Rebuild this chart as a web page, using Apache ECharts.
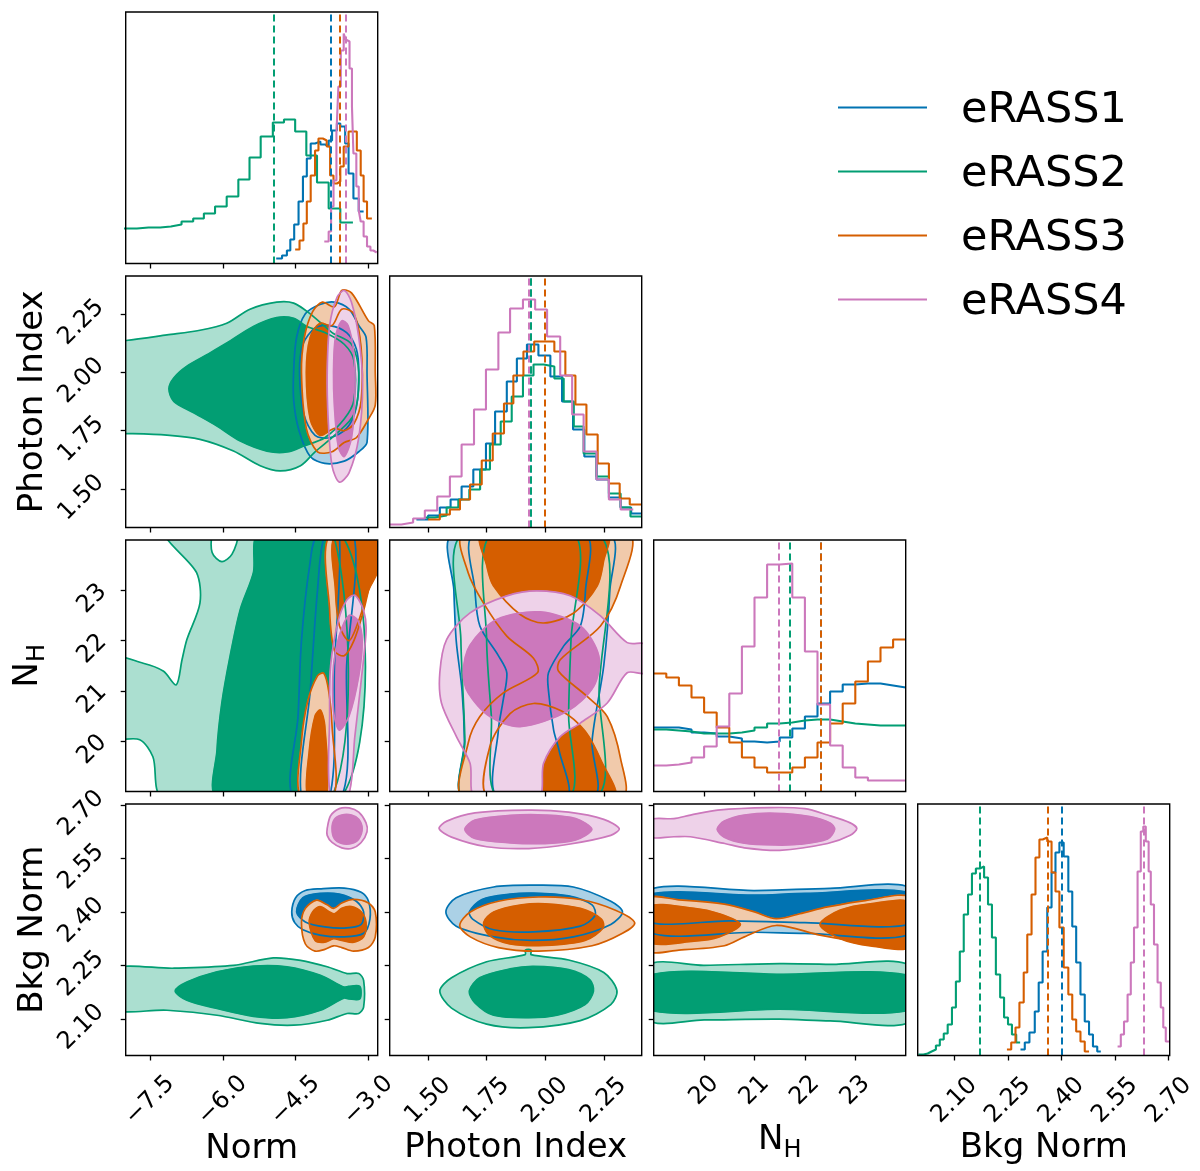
<!DOCTYPE html>
<html>
<head>
<meta charset="utf-8">
<script src="https://cdn.jsdelivr.net/npm/echarts@6/dist/echarts.min.js"></script>
<style>
html,body{margin:0;padding:0;background:#fff;}
#chart{width:1200px;height:1171px;}
</style>
</head>
<body>
<div id="chart"></div>
<script>
// ---- axis ranges / ticks ----
var normRange = [-8.0, -2.81];
var piRange = [1.336, 2.412];
var nhRange = [19.0, 24.0];
var bkgRange = [1.997, 2.703];
var normTicks = [-7.5, -6.0, -4.5, -3.0];
var piTicks = [1.50, 1.75, 2.00, 2.25];
var nhTicks = [20, 21, 22, 23];
var bkgTicks = [2.10, 2.25, 2.40, 2.55, 2.70];
var setNames = ['eRASS1', 'eRASS2', 'eRASS3', 'eRASS4'];

// ---- 1D histograms (bin edges, heights) ----
var normEdgesE1 = [-4.90,-4.78,-4.68,-4.61,-4.53,-4.44,-4.35,-4.27,-4.19,-4.10,-3.99,-3.89,-3.82,-3.75,-3.65,-3.58,-3.48,-3.41,-3.31,-3.20,-3.10];
var normHistE1 = [5,8,13,24,39,62,87,105,120,122,119,117,123,133,140,137,120,90,65,52];
var normEdgesE2 = [-8.05,-7.77,-7.53,-7.29,-7.07,-6.85,-6.61,-6.39,-6.16,-5.92,-5.68,-5.45,-5.22,-4.97,-4.74,-4.51,-4.28,-4.06,-3.82,-3.58,-3.32];
var normHistE2 = [35,36,36,37,39,42,45,50,57,67,84,106,127,141,144,132,108,81,55,41];
var normEdgesE3 = [-4.51,-4.42,-4.34,-4.27,-4.19,-4.10,-4.03,-3.94,-3.86,-3.79,-3.72,-3.65,-3.58,-3.51,-3.41,-3.34,-3.24,-3.16,-3.10,-3.03,-2.93];
var normHistE3 = [14,23,40,62,88,113,125,123,117,88,80,82,97,117,132,132,113,88,62,45];
var normEdgesE4 = [-3.91,-3.82,-3.77,-3.72,-3.66,-3.62,-3.57,-3.51,-3.47,-3.43,-3.39,-3.34,-3.31,-3.25,-3.20,-3.16,-3.10,-3.03,-2.96,-2.90,-2.83];
var normHistE4 = [22,32,57,83,130,177,213,230,224,222,195,157,110,77,53,42,27,17,13,11];
var normMedians = [-3.77, -4.96, -3.60, -3.47];

var piEdgesE1 = [1.450,1.500,1.550,1.596,1.643,1.693,1.747,1.786,1.836,1.879,1.922,1.971,2.022,2.072,2.119,2.167,2.219,2.272,2.322,2.367,2.410];
var piHistE1 = [8,12,20,28,41,58,84,116,146,169,183,172,151,126,98,71,48,30,20,14];
var piEdgesE2 = [1.486,1.529,1.579,1.629,1.676,1.722,1.764,1.810,1.857,1.905,1.950,1.993,2.039,2.079,2.122,2.164,2.219,2.272,2.322,2.364,2.410];
var piHistE2 = [10,12,20,28,38,58,83,106,131,152,163,161,149,126,101,74,51,34,20,11];
var piEdgesE3 = [1.500,1.550,1.593,1.636,1.679,1.729,1.776,1.824,1.864,1.907,1.953,2.000,2.039,2.086,2.129,2.176,2.224,2.272,2.318,2.361,2.410];
var piHistE3 = [8,13,18,28,43,67,94,124,152,176,186,186,176,152,123,93,64,44,29,23];
var piEdgesE4 = [1.336,1.386,1.436,1.486,1.539,1.593,1.643,1.696,1.747,1.800,1.850,1.905,1.957,2.008,2.064,2.115,2.164,2.219,2.272,2.322,2.376];
var piHistE4 = [3,5,9,17,31,51,83,118,158,195,219,228,218,191,152,113,76,48,28,18];
var piMedians = [1.935, 1.940, 1.997, 1.926];

var nhEdges = [19.0,19.25,19.5,19.75,20.0,20.25,20.5,20.75,21.0,21.25,21.5,21.75,22.0,22.25,22.5,22.75,23.0,23.25,23.5,23.75,24.0];
var nhHistE1 = [64,64,62,59,58,55,53,50,49,50,54,63,75,88,100,107,108,108,106,104];
var nhHistE2 = [62,61,60,58,58,58,59,61,64,68,69,71,72,72,70,68,67,66,66,66];
var nhHistE3 = [118,114,106,94,79,64,49,34,24,19,19,24,34,49,68,88,110,130,144,152];
var nhHistE4 = [26,27,29,34,45,65,98,145,194,227,228,194,140,87,46,24,14,11,11,11];
var nhMedians = [22.32, 21.69, 22.32, 21.49];

var bkgEdgesE1 = [2.285,2.297,2.310,2.325,2.336,2.347,2.360,2.372,2.383,2.394,2.406,2.419,2.430,2.441,2.453,2.465,2.477,2.488,2.500,2.510];
var bkgHistE1 = [6,13,23,44,73,104,148,183,203,213,199,164,129,93,61,34,21,9,4];
var bkgEdgesE2 = [1.999,2.013,2.025,2.036,2.048,2.059,2.070,2.081,2.093,2.104,2.115,2.126,2.138,2.149,2.160,2.171,2.183,2.194,2.205,2.216,2.228,2.239,2.250,2.261,2.273,2.284];
var bkgHistE2 = [1,2,4,6,10,16,22,31,48,74,104,141,161,182,187,189,178,151,118,81,58,38,31,21,13];
var bkgEdgesE3 = [2.247,2.259,2.271,2.282,2.294,2.304,2.316,2.327,2.338,2.347,2.360,2.372,2.383,2.394,2.406,2.419,2.430,2.441,2.453,2.465,2.477];
var bkgHistE3 = [6,13,28,53,83,121,161,198,216,218,214,183,164,128,88,61,36,24,14,4];
var bkgEdgesE4 = [2.557,2.566,2.575,2.585,2.594,2.603,2.613,2.622,2.629,2.636,2.644,2.650,2.659,2.669,2.678,2.685,2.692,2.702];
var bkgHistE4 = [9,21,34,61,93,128,184,224,229,214,184,151,111,73,48,28,14];
var bkgMedians = [2.397, 2.175, 2.363, 2.633];

// ---- 2D contours (outer = 2 sigma, inner = 1 sigma), [x, y] in data units ----
// Photon Index vs Norm
var piNormE1Outer = [[-4.54,2.01],[-4.48,2.15],[-4.3,2.25],[-4.0,2.29],[-3.7,2.30],[-3.4,2.27],[-3.2,2.20],[-3.05,2.15],[-3.03,2.0],[-3.03,1.70],[-3.2,1.66],[-3.5,1.62],[-3.9,1.61],[-4.2,1.64],[-4.43,1.75],[-4.54,1.88]];
var piNormE1Inner = [[-4.42,2.0],[-4.35,2.12],[-4.1,2.19],[-3.8,2.2],[-3.45,2.17],[-3.25,2.1],[-3.2,2.0],[-3.25,1.85],[-3.45,1.76],[-3.8,1.72],[-4.1,1.73],[-4.33,1.82]];
var piNormE2Outer = [[-8.3,2.13],[-7.99,2.136],[-7.15,2.16],[-6.47,2.18],[-5.92,2.21],[-5.44,2.27],[-4.89,2.30],[-4.54,2.296],[-4.2,2.25],[-3.75,2.17],[-3.35,2.12],[-3.2,2.0],[-3.3,1.82],[-3.7,1.73],[-4.1,1.66],[-4.40,1.60],[-4.82,1.578],[-5.23,1.60],[-5.78,1.663],[-6.47,1.713],[-7.15,1.731],[-7.99,1.738],[-8.3,1.738]];
var piNormE2Inner = [[-7.11,1.93],[-7.01,1.976],[-6.74,2.026],[-6.33,2.075],[-5.92,2.125],[-5.37,2.196],[-4.89,2.234],[-4.54,2.231],[-4.27,2.196],[-3.9,2.17],[-3.5,2.12],[-3.3,2.05],[-3.3,1.88],[-3.5,1.80],[-3.9,1.72],[-4.33,1.685],[-4.68,1.659],[-5.09,1.663],[-5.64,1.706],[-6.12,1.77],[-6.60,1.827],[-7.01,1.876]];
var piNormE3Outer = [[-4.38,2.0],[-4.32,2.15],[-4.15,2.26],[-3.95,2.30],[-3.7,2.28],[-3.55,2.35],[-3.35,2.34],[-3.0,2.22],[-2.88,2.2],[-2.86,2.0],[-2.86,1.86],[-3.0,1.80],[-3.25,1.72],[-3.5,1.70],[-3.75,1.66],[-4.05,1.66],[-4.28,1.76]];
var piNormE3Inner = [[-4.28,2.0],[-4.2,2.15],[-4.0,2.21],[-3.75,2.2],[-3.55,2.27],[-3.3,2.25],[-3.15,2.1],[-3.15,1.88],[-3.3,1.78],[-3.5,1.75],[-3.7,1.76],[-4.0,1.73],[-4.2,1.80]];
var piNormE4Outer = [[-3.85,2.0],[-3.8,2.2],[-3.65,2.32],[-3.5,2.35],[-3.35,2.3],[-3.2,2.15],[-3.12,1.95],[-3.2,1.72],[-3.4,1.57],[-3.6,1.53],[-3.75,1.6],[-3.83,1.8]];
var piNormE4Inner = [[-3.72,2.0],[-3.68,2.15],[-3.55,2.22],[-3.42,2.2],[-3.3,2.08],[-3.28,1.9],[-3.35,1.72],[-3.5,1.64],[-3.62,1.68],[-3.7,1.85]];

// N_H vs Norm
var nhNormE1Outer = [[-4.56,18.9],[-4.45,20.5],[-4.38,22.0],[-4.21,23.5],[-4.04,24.1],[-3.3,24.1],[-3.45,21.5],[-3.55,18.9]];
var nhNormE1Inner = [[-4.38,18.9],[-4.2,21.0],[-4.05,23.0],[-3.9,24.1],[-3.6,24.1],[-3.7,21.5],[-3.8,18.9]];
var nhNormE2Outer = [[-7.12,24.1],[-3.55,24.1],[-3.55,18.9],[-7.24,18.9],[-7.44,19.69],[-7.71,20.03],[-8.3,20.09],[-8.3,21.65],[-7.64,21.55],[-7.22,21.39],[-6.96,21.12],[-6.84,21.62],[-6.74,22.02],[-6.47,22.75],[-6.54,23.35]];
var nhNormE2Hole = [[-6.19,24.1],[-6.22,23.75],[-6.02,23.57],[-5.81,23.72],[-5.71,24.1]];
var nhNormE2Inner = [[-5.27,24.1],[-5.37,23.35],[-5.64,22.62],[-5.85,21.69],[-6.02,20.76],[-6.12,19.82],[-6.12,18.9],[-3.75,18.9],[-3.72,24.1]];
var nhNormE3OuterTop = [[-3.80,24.1],[-3.80,22.6],[-3.7,21.8],[-3.5,21.7],[-3.3,22.0],[-3.1,22.6],[-2.9,23.3],[-2.7,23.4],[-2.7,24.1]];
var nhNormE3InnerTop = [[-3.68,24.1],[-3.68,23.0],[-3.6,22.3],[-3.4,22.0],[-3.2,22.4],[-3.0,23.0],[-2.8,23.4],[-2.7,24.1]];
var nhNormE3OuterBottom = [[-4.40,18.9],[-4.38,20.0],[-4.25,20.8],[-4.05,21.3],[-3.92,21.35],[-3.82,21.0],[-3.75,20.3],[-3.72,18.9]];
var nhNormE3InnerBottom = [[-4.25,18.9],[-4.22,19.8],[-4.1,20.5],[-3.99,20.62],[-3.9,20.3],[-3.87,18.9]];
var nhNormE4Outer = [[-3.78,18.9],[-3.80,20.5],[-3.78,21.5],[-3.62,22.4],[-3.45,22.8],[-3.28,22.9],[-3.1,22.6],[-3.05,22.2],[-3.15,21.2],[-3.28,20.1],[-3.42,18.9]];
var nhNormE4Inner = [[-3.72,20.6],[-3.72,21.5],[-3.6,22.1],[-3.4,22.5],[-3.22,22.4],[-3.13,22.0],[-3.2,21.3],[-3.4,20.5],[-3.6,20.22]];

// Bkg Norm vs Norm
var bkgNormE1Outer = [[-4.58,2.40],[-4.5,2.44],[-4.3,2.46],[-4.0,2.465],[-3.5,2.467],[-3.15,2.455],[-3.0,2.43],[-2.97,2.38],[-3.1,2.34],[-3.5,2.33],[-4.0,2.335],[-4.35,2.35],[-4.52,2.37]];
var bkgNormE1Inner = [[-4.48,2.40],[-4.35,2.44],[-4.0,2.452],[-3.6,2.45],[-3.25,2.43],[-3.1,2.40],[-3.15,2.365],[-3.45,2.355],[-3.9,2.358],[-4.3,2.372]];
var bkgNormE2Outer = [[-8.3,2.238],[-7.0,2.242],[-5.78,2.25],[-4.96,2.271],[-4.40,2.264],[-3.85,2.246],[-3.44,2.227],[-3.20,2.227],[-3.10,2.208],[-3.10,2.133],[-3.20,2.115],[-3.44,2.115],[-3.85,2.096],[-4.54,2.082],[-5.23,2.087],[-6.12,2.11],[-7.15,2.124],[-8.3,2.129]];
var bkgNormE2Inner = [[-6.98,2.178],[-6.74,2.203],[-6.12,2.232],[-5.37,2.248],[-4.68,2.246],[-3.99,2.222],[-3.51,2.189],[-3.41,2.191],[-3.18,2.191],[-3.18,2.156],[-3.41,2.156],[-3.51,2.158],[-3.99,2.124],[-4.68,2.103],[-5.37,2.107],[-6.12,2.129],[-6.74,2.152]];
var bkgNormE3Outer = [[-4.38,2.37],[-4.3,2.41],[-4.07,2.433],[-3.85,2.42],[-3.72,2.41],[-3.55,2.425],[-3.31,2.435],[-3.0,2.425],[-2.86,2.40],[-2.86,2.33],[-3.0,2.30],[-3.31,2.29],[-3.55,2.30],[-3.72,2.305],[-3.9,2.295],[-4.1,2.29],[-4.3,2.31]];
var bkgNormE3Inner = [[-4.22,2.37],[-4.15,2.40],[-4.0,2.415],[-3.8,2.40],[-3.7,2.395],[-3.55,2.41],[-3.35,2.415],[-3.15,2.40],[-3.05,2.37],[-3.1,2.33],[-3.3,2.315],[-3.55,2.32],[-3.72,2.325],[-3.9,2.315],[-4.1,2.32]];
var bkgNormE4Outer = [[-3.85,2.634],[-3.78,2.67],[-3.6,2.69],[-3.4,2.692],[-3.2,2.68],[-3.05,2.65],[-3.03,2.625],[-3.15,2.595],[-3.35,2.578],[-3.55,2.58],[-3.75,2.595],[-3.85,2.615]];
var bkgNormE4Inner = [[-3.75,2.634],[-3.7,2.66],[-3.55,2.672],[-3.35,2.672],[-3.2,2.66],[-3.13,2.634],[-3.2,2.605],[-3.35,2.592],[-3.55,2.592],[-3.7,2.605]];

// N_H vs Photon Index
var nhPiE1Outer = [[1.604,24.1],[1.61,23.0],[1.62,22.0],[1.645,21.0],[1.655,20.0],[1.65,18.9],[2.207,18.9],[2.2,20.0],[2.25,21.5],[2.276,23.0],[2.276,24.1]];
var nhPiE1Inner = [[1.693,24.1],[1.70,23.0],[1.721,22.29],[1.80,21.7],[1.836,21.36],[1.82,20.8],[1.80,20.22],[1.793,18.9],[2.093,18.9],[2.06,19.8],[2.036,20.22],[2.014,21.0],[2.014,21.36],[2.08,21.9],[2.15,22.29],[2.172,23.0],[2.172,24.1]];
var nhPiE2Outer = [[1.643,24.1],[1.64,22.0],[1.657,20.0],[1.65,18.9],[2.222,18.9],[2.23,21.0],[2.236,24.1]];
var nhPiE2Inner = [[1.764,24.1],[1.75,22.0],[1.77,20.5],[1.793,18.9],[2.107,18.9],[2.10,20.5],[2.11,22.0],[2.129,24.1]];
var nhPiE3Outer = [[1.65,24.1],[1.671,23.35],[1.736,22.75],[1.836,22.09],[1.95,21.65],[1.967,21.36],[1.821,20.96],[1.721,20.49],[1.671,19.96],[1.65,18.9],[2.329,18.9],[2.322,19.65],[2.265,20.49],[2.179,20.89],[2.057,21.39],[2.064,21.62],[2.236,22.29],[2.322,23.09],[2.357,24.1]];
var nhPiE3InnerTop = [[1.729,24.1],[1.75,23.5],[1.779,23.09],[1.893,22.52],[1.993,22.35],[2.122,22.55],[2.222,23.09],[2.25,23.6],[2.265,24.1]];
var nhPiE3InnerBottom = [[1.757,18.9],[1.764,19.9],[1.85,20.55],[1.95,20.75],[2.07,20.6],[2.17,20.2],[2.24,19.6],[2.293,18.9]];
var nhPiE4Outer = [[1.70,18.9],[1.679,19.56],[1.621,20.09],[1.557,20.76],[1.55,21.36],[1.579,22.02],[1.679,22.55],[1.836,22.89],[1.964,22.99],[2.107,22.89],[2.236,22.49],[2.35,21.96],[2.43,21.92],[2.43,21.36],[2.35,21.36],[2.265,20.76],[2.15,20.36],[2.064,20.09],[1.993,19.56],[1.971,18.9]];
var nhPiE4Inner = [[1.65,21.36],[1.679,21.91],[1.793,22.42],[1.979,22.57],[2.15,22.29],[2.229,21.69],[2.207,21.09],[2.093,20.59],[1.893,20.29],[1.764,20.49],[1.671,20.96]];

// Bkg Norm vs Photon Index
var bkgPiE1Outer = [[1.576,2.40],[1.62,2.44],[1.78,2.47],[1.942,2.475],[2.12,2.47],[2.28,2.43],[2.33,2.40],[2.28,2.365],[2.12,2.33],[1.942,2.32],[1.78,2.33],[1.62,2.36]];
var bkgPiE1Inner = [[1.676,2.40],[1.73,2.435],[1.85,2.45],[1.95,2.453],[2.1,2.445],[2.2,2.42],[2.213,2.39],[2.15,2.36],[1.95,2.344],[1.78,2.35],[1.69,2.38]];
var bkgPiE2Outer = [[1.55,2.178],[1.6,2.215],[1.75,2.26],[1.915,2.28],[1.915,2.293],[1.94,2.293],[1.94,2.28],[2.1,2.265],[2.25,2.23],[2.306,2.18],[2.28,2.14],[2.15,2.095],[1.928,2.075],[1.75,2.085],[1.6,2.13]];
var bkgPiE2Inner = [[1.676,2.178],[1.72,2.215],[1.85,2.24],[1.95,2.247],[2.1,2.238],[2.19,2.21],[2.206,2.178],[2.17,2.14],[2.05,2.11],[1.93,2.103],[1.78,2.11],[1.7,2.145]];
var bkgPiE3Outer = [[1.635,2.362],[1.68,2.40],[1.8,2.43],[1.972,2.442],[2.15,2.435],[2.3,2.405],[2.382,2.37],[2.33,2.34],[2.2,2.305],[1.972,2.29],[1.8,2.30],[1.68,2.33]];
var bkgPiE3Inner = [[1.737,2.37],[1.78,2.40],[1.9,2.42],[2.0,2.423],[2.15,2.41],[2.24,2.38],[2.247,2.355],[2.17,2.32],[2.0,2.306],[1.85,2.31],[1.76,2.335]];
var bkgPiE4Outer = [[1.547,2.634],[1.58,2.655],[1.7,2.678],[1.93,2.686],[2.1,2.68],[2.25,2.66],[2.316,2.634],[2.28,2.615],[2.1,2.59],[1.93,2.578],[1.75,2.583],[1.6,2.61]];
var bkgPiE4Inner = [[1.657,2.632],[1.7,2.658],[1.85,2.671],[2.0,2.672],[2.13,2.662],[2.199,2.632],[2.13,2.602],[2.0,2.592],[1.85,2.594],[1.7,2.606]];

// Bkg Norm vs N_H
var bkgNhE1Outer = [[18.9,2.462],[21.0,2.46],[22.5,2.466],[24.1,2.467],[24.1,2.338],[22,2.34],[21,2.343],[18.9,2.343]];
var bkgNhE1Inner = [[18.9,2.449],[21,2.447],[22,2.452],[24.1,2.453],[24.1,2.366],[22,2.37],[20.5,2.375],[18.9,2.372]];
var bkgNhE2Outer = [[18.9,2.25],[20,2.25],[21.5,2.255],[22.5,2.253],[24.1,2.248],[24.1,2.093],[22.5,2.094],[21.5,2.099],[20,2.097],[18.9,2.097]];
var bkgNhE2Inner = [[18.9,2.222],[21.5,2.225],[24.1,2.22],[24.1,2.125],[21.5,2.127],[18.9,2.125]];
var bkgNhE3Outer = [[18.9,2.437],[19.5,2.434],[20.4,2.422],[21.0,2.40],[21.43,2.381],[21.9,2.395],[22.45,2.414],[23.2,2.432],[24.1,2.44],[24.1,2.305],[23.5,2.31],[23.0,2.318],[22.3,2.335],[21.43,2.362],[20.8,2.33],[20.4,2.305],[19.5,2.293],[18.9,2.292]];
var bkgNhE3InnerLeft = [[18.9,2.414],[19.8,2.41],[20.3,2.395],[20.72,2.365],[20.3,2.33],[19.8,2.318],[18.9,2.316]];
var bkgNhE3InnerRight = [[24.1,2.425],[23.3,2.423],[22.7,2.405],[22.3,2.365],[22.7,2.325],[23.3,2.305],[24.1,2.303]];
var bkgNhE4Outer = [[18.9,2.658],[19.4,2.662],[19.73,2.672],[20.27,2.686],[21.3,2.693],[22.0,2.69],[22.45,2.672],[22.9,2.65],[23.03,2.634],[22.9,2.615],[22.45,2.592],[21.5,2.573],[20.8,2.58],[20.41,2.592],[19.73,2.611],[19.4,2.611],[18.9,2.611]];
var bkgNhE4Inner = [[20.26,2.632],[20.4,2.655],[20.8,2.672],[21.4,2.677],[22.1,2.668],[22.5,2.65],[22.59,2.632],[22.45,2.605],[21.9,2.59],[21.4,2.588],[20.8,2.593],[20.4,2.61]];

// ---- style ----
var FONT = 'DejaVu Sans';
var lineColors = ['#0173b2', '#029e73', '#d55e00', '#cc78bc'];
var lightColors = ['#abd1e6', '#abdfd0', '#f1caab', '#eed2e9'];

var L0 = 125.7, T0 = 12, CELL = 264, GW = 252, GH = 251.5;
var TICK_FS = 24, TITLE_FS = 34;

var ranges = [normRange, piRange, nhRange, bkgRange];
var ticks = [normTicks, piTicks, nhTicks, bkgTicks];
var decimals = [1, 2, 0, 2];
var titles = ['Norm', 'Photon Index', '{n|N}{s|H}', 'Bkg Norm'];

var hists = [
	{ edges: [normEdgesE1, normEdgesE2, normEdgesE3, normEdgesE4], heights: [normHistE1, normHistE2, normHistE3, normHistE4], med: normMedians },
	{ edges: [piEdgesE1, piEdgesE2, piEdgesE3, piEdgesE4], heights: [piHistE1, piHistE2, piHistE3, piHistE4], med: piMedians },
	{ edges: [nhEdges, nhEdges, nhEdges, nhEdges], heights: [nhHistE1, nhHistE2, nhHistE3, nhHistE4], med: nhMedians },
	{ edges: [bkgEdgesE1, bkgEdgesE2, bkgEdgesE3, bkgEdgesE4], heights: [bkgHistE1, bkgHistE2, bkgHistE3, bkgHistE4], med: bkgMedians }
];

// per panel: [outer list, inner list, hole list] for each data set
var contourPanels = {
	'1-0': [
		[[piNormE1Outer], [piNormE1Inner], []],
		[[piNormE2Outer], [piNormE2Inner], []],
		[[piNormE3Outer], [piNormE3Inner], []],
		[[piNormE4Outer], [piNormE4Inner], []]
	],
	'2-0': [
		[[nhNormE1Outer], [nhNormE1Inner], []],
		[[nhNormE2Outer], [nhNormE2Inner], [nhNormE2Hole]],
		[[nhNormE3OuterTop, nhNormE3OuterBottom], [nhNormE3InnerTop, nhNormE3InnerBottom], []],
		[[nhNormE4Outer], [nhNormE4Inner], []]
	],
	'3-0': [
		[[bkgNormE1Outer], [bkgNormE1Inner], []],
		[[bkgNormE2Outer], [bkgNormE2Inner], []],
		[[bkgNormE3Outer], [bkgNormE3Inner], []],
		[[bkgNormE4Outer], [bkgNormE4Inner], []]
	],
	'2-1': [
		[[nhPiE1Outer], [nhPiE1Inner], []],
		[[nhPiE2Outer], [nhPiE2Inner], []],
		[[nhPiE3Outer], [nhPiE3InnerTop, nhPiE3InnerBottom], []],
		[[nhPiE4Outer], [nhPiE4Inner], []]
	],
	'3-1': [
		[[bkgPiE1Outer], [bkgPiE1Inner], []],
		[[bkgPiE2Outer], [bkgPiE2Inner], []],
		[[bkgPiE3Outer], [bkgPiE3Inner], []],
		[[bkgPiE4Outer], [bkgPiE4Inner], []]
	],
	'3-2': [
		[[bkgNhE1Outer], [bkgNhE1Inner], []],
		[[bkgNhE2Outer], [bkgNhE2Inner], []],
		[[bkgNhE3Outer], [bkgNhE3InnerLeft, bkgNhE3InnerRight], []],
		[[bkgNhE4Outer], [bkgNhE4Inner], []]
	]
};

function fmt(dec) {
	return function (v) {
		return Number(v).toFixed(dec).replace('-', '\u2212');
	};
}

function stepPoints(edges, heights) {
	var pts = [];
	for (var i = 0; i < heights.length; i++) {
		pts.push([edges[i], heights[i]]);
		pts.push([edges[i + 1], heights[i]]);
	}
	return pts;
}

// fills of every set first, then every contour line on top
function contourItems(sets) {
	var items = [];
	sets.forEach(function (s, d) {
		s[0].forEach(function (p) { items.push({ poly: p, fill: lightColors[d] }); });
		s[1].forEach(function (p) { items.push({ poly: p, fill: lineColors[d] }); });
		s[2].forEach(function (p) { items.push({ poly: p, fill: '#ffffff' }); });
	});
	sets.forEach(function (s, d) {
		s[0].concat(s[1], s[2]).forEach(function (p) {
			items.push({ poly: p, stroke: lineColors[d] });
		});
	});
	return items;
}

var nameStyle = {
	fontFamily: FONT, fontSize: TITLE_FS, color: '#000',
	rich: {
		n: { fontFamily: FONT, fontSize: TITLE_FS, color: '#000', verticalAlign: 'bottom', padding: [0, 0, 5, 0] },
		s: { fontFamily: FONT, fontSize: 24, color: '#000', verticalAlign: 'bottom' }
	}
};

var grids = [], xAxes = [], yAxes = [], series = [];

for (var r = 0; r < 4; r++) {
	for (var c = 0; c <= r; c++) {
		var k = grids.length;
		grids.push({
			left: L0 + CELL * c, top: T0 + CELL * r, width: GW, height: GH,
			show: true, borderColor: '#000', borderWidth: 1.4, backgroundColor: 'transparent',
			z: 10, containLabel: false, outerBoundsMode: 'none'
		});
		xAxes.push({
			gridIndex: k, type: 'value', min: ranges[c][0], max: ranges[c][1],
			axisLine: { show: false }, splitLine: { show: false },
			axisTick: { show: true, customValues: ticks[c], length: 5, lineStyle: { color: '#000', width: 1.3 } },
			axisLabel: {
				show: r === 3, customValues: ticks[c], rotate: 45, align: 'center', verticalAlign: 'middle',
				margin: c === 2 ? 35 : 45, fontFamily: FONT, fontSize: TICK_FS, color: '#000', formatter: fmt(decimals[c])
			},
			name: r === 3 ? titles[c] : '', nameLocation: 'middle', nameGap: 68, nameTextStyle: nameStyle
		});
		if (r === c) {
			yAxes.push({
				gridIndex: k, type: 'value', min: 0, max: GH,
				axisLine: { show: false }, axisTick: { show: false }, axisLabel: { show: false }, splitLine: { show: false }
			});
			var h = hists[c];
			for (var d = 0; d < 4; d++) {
				series.push({
					type: 'line', name: setNames[d], xAxisIndex: k, yAxisIndex: k,
					data: stepPoints(h.edges[d], h.heights[d]),
					showSymbol: false, symbol: 'none', clip: true, z: 3,
					lineStyle: { color: lineColors[d], width: 2.1 }, itemStyle: { color: lineColors[d] },
					markLine: {
						silent: true, symbol: ['none', 'none'], label: { show: false },
						lineStyle: { type: [7, 4], color: lineColors[d], width: 2 },
						data: [{ xAxis: h.med[d] }]
					}
				});
			}
		} else {
			yAxes.push({
				gridIndex: k, type: 'value', min: ranges[r][0], max: ranges[r][1],
				axisLine: { show: false }, splitLine: { show: false },
				axisTick: { show: true, customValues: ticks[r], length: 5, lineStyle: { color: '#000', width: 1.3 } },
				axisLabel: {
					show: c === 0, customValues: ticks[r], rotate: 45, align: 'center', verticalAlign: 'top',
					margin: r === 2 ? 42 : 53,
					fontFamily: FONT, fontSize: TICK_FS, color: '#000', formatter: fmt(decimals[r])
				},
				name: c === 0 ? titles[r] : '', nameLocation: 'middle', nameGap: 76, nameTextStyle: nameStyle
			});
			(function (items, gi) {
				series.push({
					type: 'custom', xAxisIndex: gi, yAxisIndex: gi, clip: true, z: 2,
					data: items.map(function (it) { return it.poly[0]; }),
					renderItem: function (params, api) {
						var it = items[params.dataIndex];
						var pts = it.poly.map(function (p) { return api.coord(p); });
						var style = it.stroke
							? { fill: 'none', stroke: it.stroke, lineWidth: 1.7 }
							: { fill: it.fill, stroke: it.fill, lineWidth: 0.6 };
						return { type: 'polygon', shape: { points: pts, smooth: 0.3 }, style: style };
					}
				});
			})(contourItems(contourPanels[r + '-' + c]), k);
		}
	}
}

// legend drawn as plain graphic items, top right
var legendItems = [];
setNames.forEach(function (nm, d) {
	legendItems.push({
		type: 'line', shape: { x1: 838, y1: 107.5 + 64 * d, x2: 927, y2: 107.5 + 64 * d },
		style: { stroke: lineColors[d], lineWidth: 2.2 }
	});
	legendItems.push({
		type: 'text', x: 961, y: 110.5 + 64 * d,
		style: { text: nm, fontFamily: FONT, fontSize: 43, fill: '#000', verticalAlign: 'middle', textVerticalAlign: 'middle' }
	});
});

var chart = echarts.init(document.getElementById('chart'));
chart.setOption({
	animation: false,
	backgroundColor: '#fff',
	grid: grids,
	xAxis: xAxes,
	yAxis: yAxes,
	series: series,
	graphic: legendItems
});
</script>
</body>
</html>
